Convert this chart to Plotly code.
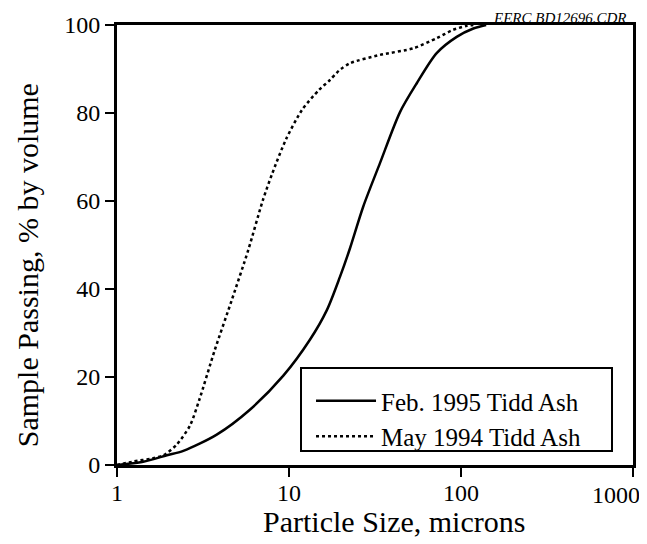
import plotly.graph_objects as go

# Feb. 1995 Tidd Ash (solid)
feb_x = [1, 1.42, 1.95, 2.43, 3.8, 5.9, 9.27, 13.2, 16.6, 19.8, 22.6, 27, 33.8, 44.2, 55.2, 72.2, 94.4, 118, 140]
feb_y = [0, 0.75, 2.2, 3.2, 6.9, 12.5, 20.3, 28.4, 35.2, 42.8, 49.2, 58.7, 68.6, 80.2, 86.7, 93.6, 97.3, 99.2, 100]

# May 1994 Tidd Ash (dotted)
may_x = [1, 1.25, 1.6, 1.86, 2.22, 2.66, 3.02, 3.7, 4.65, 5.8, 7.05, 8.0, 9.6, 11.9, 14.9, 17.3, 19.5, 22.6, 33.8, 52.8, 72.2, 90, 108, 118]
may_y = [0, 0.8, 1.5, 2.2, 4.6, 9.0, 15, 26.1, 37.5, 48.9, 60.2, 66.3, 74, 80.7, 85.2, 87.5, 89.6, 91.3, 93.2, 94.7, 97, 98.9, 99.8, 100]

x_ticks = [1, 10, 100, 1000]
x_tick_labels = ["1", "10", "100", "1000"]
y_ticks = [0, 20, 40, 60, 80, 100]

x_title = "Particle Size, microns"
y_title = "Sample Passing, % by volume"

FONT = "Liberation Serif"

fig = go.Figure()
fig.add_trace(go.Scatter(x=feb_x, y=feb_y, mode="lines", name="Feb. 1995 Tidd Ash",
                         line=dict(color="black", width=2.5, shape="spline", smoothing=0.8)))
fig.add_trace(go.Scatter(x=may_x, y=may_y, mode="lines", name="May 1994 Tidd Ash",
                         line=dict(color="black", width=2.5, dash="dot", shape="spline", smoothing=0.7)))

axis_common = dict(showline=True, linecolor="black", linewidth=3, mirror=True,
                   ticks="outside", ticklen=9, tickwidth=2, tickcolor="black",
                   showgrid=False, zeroline=False, automargin=False,
                   tickfont=dict(family=FONT, size=24, color="black"))

# last x tick label is placed as an annotation so it can sit left of the corner
fig.update_xaxes(type="log", range=[0, 3], tickvals=x_ticks,
                 ticktext=x_tick_labels[:-1] + [""],
                 ticklabelstandoff=-5, **axis_common)
fig.update_yaxes(range=[0, 100], tickvals=y_ticks, **axis_common)

fig.add_annotation(text=x_tick_labels[-1], xref="x", yref="paper", x=3, y=0,
                   xanchor="right", yanchor="middle", xshift=9, yshift=-30, showarrow=False,
                   font=dict(family=FONT, size=24, color="black"))

fig.add_annotation(text=x_title, xref="paper", yref="paper", x=0.537, y=-0.1295,
                   xanchor="center", yanchor="middle", showarrow=False,
                   font=dict(family=FONT, size=30, color="black"))
fig.add_annotation(text=y_title, xref="paper", yref="paper", x=-0.174, y=0.4545,
                   xanchor="center", yanchor="middle", textangle=-90, showarrow=False,
                   font=dict(family=FONT, size=30, color="black"))

fig.add_annotation(text="<i>EERC BD12696.CDR</i>", xref="paper", yref="paper", x=1, y=1,
                   xanchor="right", yanchor="bottom", xshift=-4, yshift=-3, showarrow=False,
                   font=dict(family=FONT, size=15, color="black"))

# legend frame
fig.add_shape(type="rect", xref="paper", yref="paper", x0=0.3566, x1=0.9593, y0=0.0318, y1=0.2205,
              line=dict(color="black", width=2), fillcolor="white", layer="below")

fig.update_layout(
    width=639, height=536,
    margin=dict(l=109, r=14, t=17, b=79),
    paper_bgcolor="white", plot_bgcolor="white",
    font=dict(family=FONT, color="black"),
    legend=dict(x=0.376, y=0.1977, xanchor="left", yanchor="top",
                borderwidth=0, bgcolor="rgba(0,0,0,0)", itemwidth=60,
                font=dict(family=FONT, size=25, color="black"), tracegroupgap=0),
)

fig.write_html("out.html")
